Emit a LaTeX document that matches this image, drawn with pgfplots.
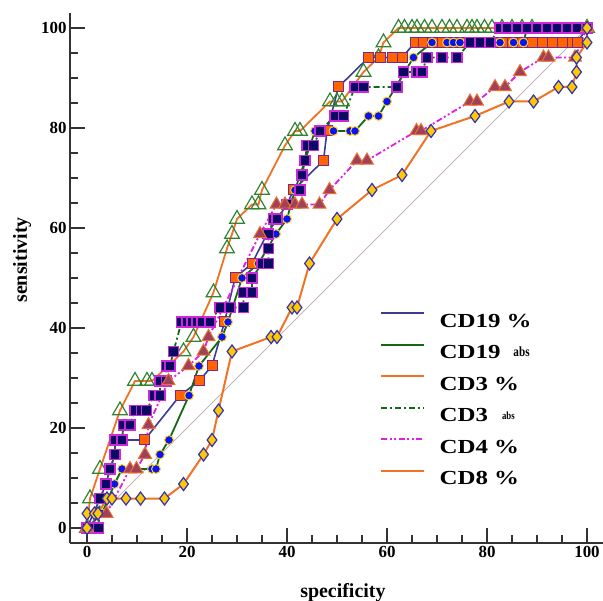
\documentclass[border=0pt]{standalone}
\usepackage{fontspec}
\setmainfont{Liberation Serif}
\newfontfamily\legfont[FakeStretch=1.25]{Liberation Serif}
\newfontfamily\absfont[FakeStretch=0.8]{Liberation Serif}
\usepackage{pgfplots}
\pgfplotsset{compat=1.18}
\definecolor{navyln}{RGB}{60,60,150}
\definecolor{dkgreen}{RGB}{20,105,20}
\definecolor{orng}{RGB}{240,115,35}
\definecolor{magen}{RGB}{225,30,225}
\definecolor{sqorange}{RGB}{255,100,0}
\definecolor{sqedge}{RGB}{120,40,140}
\definecolor{navyfill}{RGB}{10,10,100}
\definecolor{pinkedge}{RGB}{205,40,215}
\definecolor{circblue}{RGB}{10,20,240}
\definecolor{circedge}{RGB}{255,210,40}
\definecolor{trigreen}{RGB}{50,130,50}
\definecolor{brownfill}{RGB}{160,65,90}
\definecolor{brownedge}{RGB}{232,112,48}
\definecolor{gold}{RGB}{255,200,0}
\definecolor{diaedge}{RGB}{50,50,180}
\definecolor{diag}{RGB}{200,180,180}
\begin{document}
\begin{tikzpicture}
\begin{axis}[
  at={(0,0)}, anchor=south west,
  scale only axis, width=533bp, height=530bp,
  xmin=-3.4, xmax=103.2, ymin=-3, ymax=103,
  axis x line=bottom, axis y line=left,
  axis line style={-, line width=2.2bp, black!80},
  xtick={0,20,...,100}, ytick={0,20,...,100}, minor tick num=3,
  tick align=inside, major tick length=15bp, minor tick length=8bp,
  every tick/.style={line width=1.5bp, black!80},
  tick label style={font=\fontsize{17}{17}\selectfont\bfseries},
  /pgf/number format/assume math mode=true,
  xlabel={specificity}, ylabel={sensitivity},
  label style={font=\fontsize{20}{20}\selectfont\bfseries},
  xlabel style={at={(axis description cs:0.512,-0.0945)}, anchor=center},
  ylabel style={at={(axis description cs:-0.09,0.534)}, anchor=center},
  clip=false,
  legend image code/.code={\draw[#1] (0bp,6bp) -- (43bp,6bp);},
  legend style={draw=none, fill=none, inner sep=0pt,
    at={(axis description cs:0.5816,0.2736)}, anchor=west,
    font=\legfont\fontsize{20}{20}\selectfont\bfseries,
    row sep=15.5bp, column sep=14bp,
    nodes={inner sep=0pt, text height=16bp, text depth=0pt}},
  legend cell align=left,
]
\addlegendimage{navyln, line width=2bp}
\addlegendentry{CD19 \%}
\addlegendimage{dkgreen, line width=2.4bp}
\addlegendentry{CD19\hspace{13bp}\raisebox{2bp}{\absfont\fontsize{14}{14}\selectfont abs}}
\addlegendimage{orng, line width=2.4bp}
\addlegendentry{CD3 \%}
\addlegendimage{dkgreen, line width=2.4bp, dash pattern=on 6bp off 3bp on 2bp off 3bp}
\addlegendentry{CD3\hspace{14bp}\raisebox{2bp}{\absfont\fontsize{11}{11}\selectfont abs}}
\addlegendimage{magen, line width=2.2bp, dash pattern=on 6bp off 2.5bp on 2bp off 2.5bp on 2bp off 2.5bp}
\addlegendentry{CD4 \%}
\addlegendimage{orng, line width=2.4bp}
\addlegendentry{CD8 \%}

% chance line
\addplot[diag, line width=0.9bp, forget plot] coordinates {(0,0) (100,100)};

% CD3 % : open green triangles, orange line
\addplot[orng, line width=1.8bp, forget plot, mark=triangle,
  mark size=8.5bp, mark options={draw=trigreen, fill=white, line width=1.2bp}] coordinates {
(0,0) (0.6,5.9) (2.6,11.8) (6.6,23.5) (9.6,29.4) (12,29.4) (13,29.4)
(19.3,35.3) (21.3,38.2) (25.3,47.1) (28,55.9) (29,58.8) (30,61.8)
(33,64.7) (34.3,64.7) (35,67.6) (39.6,76.5) (41.6,79.4) (42.6,79.4)
(48.6,85.3) (50,85.3) (51,85.3) (55.3,91.2) (58.3,94.1) (59.3,97.1)
(62.3,100) (63.5,100) (65,100) (66,100) (67.5,100) (69,100) (71,100)
(72.5,100) (74,100) (76,100) (77,100) (78,100) (79.5,100) (81,100)
(83,100) (85,100) (87,100) (89,100) (100,100)
};

% CD19 % : orange squares, navy line
\addplot[navyln, line width=1.6bp, forget plot, mark=square*,
  mark size=5bp, mark options={draw=sqedge, fill=sqorange, line width=1bp}] coordinates {
(0,0) (2.6,5.9) (3.8,8.8) (4.6,11.8) (5.6,14.7) (5.6,17.6) (11.5,17.6)
(18.6,26.5) (22.4,29.4) (25,32.4) (27.5,41.2) (29.6,50) (33,52.9)
(36,58.8) (40,64.7) (41.3,67.6) (47.3,73.5) (48,79.4) (50.3,88.2)
(56.3,94.1) (58.6,94.1) (61,94.1) (63,94.1) (65.6,97.1) (67.3,97.1)
(69,97.1) (71,97.1) (73,97.1) (75,97.1) (77,97.1) (79,97.1) (81,97.1)
(83,97.1) (85,97.1) (87,97.1) (89,97.1) (91,97.1) (93,97.1) (95,97.1)
(97,97.1) (98,97.1) (100,100)
};

% CD19 abs : blue circles, dark green line
\addplot[dkgreen, line width=1.8bp, forget plot, mark=*,
  mark size=4.4bp, mark options={draw=circedge, fill=circblue, line width=1bp}] coordinates {
(0,0) (3,2.9) (5.5,8.8) (7,11.8) (13,11.8) (13.8,11.8) (14.6,14.7)
(16.4,17.6) (20.4,26.5) (22.4,32.4) (27,38.2) (28.2,41.2) (31,50)
(34.3,52.9) (37.8,58.8) (40,61.8) (41.6,67.6) (45.6,79.4) (49.3,79.4)
(52.6,79.4) (53.6,79.4) (56.3,82.4) (58.3,82.4) (60,85.3) (65.3,94.1)
(69,97.1) (72,97.1) (73.3,97.1) (74.6,97.1) (82.6,97.1) (85.3,97.1)
(87.3,97.1) (88,100) (100,100)
};

% CD3 abs : navy squares, dark green dash-dot line
\addplot[dkgreen, line width=1.8bp, forget plot,
  dash pattern=on 6bp off 3bp on 2bp off 3bp, mark=square*,
  mark size=5bp, mark options={solid, draw=pinkedge, fill=navyfill, line width=1.2bp}] coordinates {
(0,0) (1.3,0) (2.3,0) (2.6,5.9) (3.8,8.8) (4.6,11.8) (5.6,14.7)
(5.6,17.6) (7,17.6) (7.3,20.6) (8.6,20.6) (9.6,23.5) (10.9,23.5)
(11.9,23.5) (13.4,26.5) (14.6,26.5) (14.6,29.4) (15.9,29.4) (15.9,32.4)
(16.6,32.4) (17.3,35.3) (18.9,41.2) (20,41.2) (21,41.2) (22,41.2)
(23,41.2) (24.6,41.2) (26.6,44.1) (28.6,44.1) (31.3,44.1) (31.3,47.1)
(33,47.1) (33,50) (35,52.9) (36.3,52.9) (36.3,55.9) (36.3,58.8)
(37.3,61.8) (38,61.8) (40,64.7) (42.6,67.6) (43,70.6) (43.6,73.5)
(44,76.5) (45.3,76.5) (46.6,79.4) (49.6,82.4) (51.3,82.4) (53.6,88.2)
(55.3,88.2) (62,88.2) (63.3,91.2) (66,91.2) (67,91.2) (68,94.1)
(71,94.1) (74,94.1) (76.6,97.1) (78.6,97.1) (80.6,97.1) (82.6,100)
(84,100) (86,100) (88,100) (90,100) (92,100) (94,100) (96,100) (98,100)
(100,100)
};

% CD4 % : brown triangles, magenta dash-dot-dot line
\addplot[magen, line width=1.8bp, forget plot,
  dash pattern=on 6bp off 2.5bp on 2bp off 2.5bp on 2bp off 2.5bp, mark=triangle*,
  mark size=7.5bp, mark options={solid, draw=brownedge, fill=brownfill, line width=1bp}] coordinates {
(0,0) (3.9,2.9) (8.6,11.8) (9.9,11.8) (11.6,14.7) (12.3,20.6) (16.3,29.4)
(20.3,32.4) (23.3,35.3) (24.3,38.2) (34.6,58.8) (37.9,64.7) (39.6,64.7)
(41.6,64.7) (43,64.7) (46.5,64.7) (48.5,67.6) (54,73.5) (56,73.5)
(65.9,79.4) (66.8,79.4) (76.6,85.3) (78,85.3) (81.6,88.2) (83.6,88.2)
(86.6,91.2) (91.3,94.1) (92.3,94.1) (97.6,94.1) (100,100)
};

% CD8 % : gold diamonds, orange line
\addplot[orng, line width=2bp, forget plot, mark=diamond*,
  mark size=6.5bp, mark options={draw=diaedge, fill=gold, line width=1.2bp}] coordinates {
(0,0) (0,2.9) (1.5,2.9) (2.2,2.9) (4,5.9) (5,5.9) (7.8,5.9) (10.7,5.9)
(15.5,5.9) (19.3,8.8) (23.3,14.7) (25,17.6) (26.3,23.5) (29,35.3)
(36.8,38.2) (38,38.2) (41,44.1) (42,44.1) (44.5,52.9) (50,61.8)
(57,67.6) (63,70.6) (68.8,79.4) (77.6,82.4) (84.4,85.3) (89.3,85.3)
(94.3,88.2) (97,88.2) (97.9,91.2) (97.9,94.1) (100,97.1) (100,100)
};
\end{axis}
\pgfresetboundingbox
\path (-70bp,-58bp) rectangle (533bp,543bp);
\end{tikzpicture}
\end{document}
